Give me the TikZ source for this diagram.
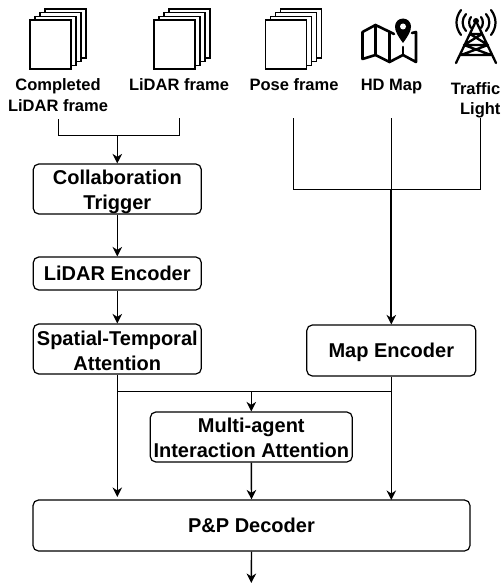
\documentclass[tikz,border=0pt]{standalone}
\usepackage{fontspec}
\setmainfont{Liberation Sans}
\usetikzlibrary{arrows.meta}
\newcommand{\liftto}[1]{\rule{0pt}{#1pt}}
\tikzset{
  x=1pt,y=-1pt,
  boxnode/.style={draw=black,line width=1.2pt,rounded corners=5.5pt,fill=white,align=center,inner sep=0pt,font=\fontsize{20}{25.3}\selectfont\bfseries,minimum height=#1},
  lab/.style={align=center,inner sep=0pt,font=\fontsize{16.5}{20.3}\selectfont\bfseries},
  wire/.style={draw=black,line width=1.4pt},
  arrowwire/.style={wire,-{Stealth[length=9.5pt,width=9.5pt,inset=3pt]}},
  sheet/.style={draw=black,line width=1.5pt,fill=white},
  icon/.style={draw=black,line width=2.6pt,line join=round,line cap=round}
}
\newcommand{\stackicon}[2]{%
  \foreach \k in {3,2,1,0}{
    \draw[sheet] (#1+5*\k,#2-3.7*\k) rectangle ++(41,49);
  }}
\begin{document}
\begin{tikzpicture}
\useasboundingbox (0,0) rectangle (501,586);
\stackicon{30}{20}
\stackicon{154}{20}
\stackicon{265.5}{20}
% map icon
\draw[icon] (394,34) -- (390,32) -- (375.5,25) -- (362.5,32) -- (362.5,59) -- (375.5,55) -- (389.5,62) -- (403,55) -- (416,62) -- (416,32) -- (412,33);
\draw[icon] (375.5,25) -- (375.5,55) (389.5,32) -- (389.5,62) (403,47) -- (403,55);
\fill[black] (403,43) .. controls (398,36) and (395,31.5) .. (395,26.5) arc (180:360:8) .. controls (411,31.5) and (408,36) .. (403,43) -- cycle;
\fill[white] (403,26.5) circle (3pt);
% tower
\fill[black] (476,21) circle (3pt);
\draw[icon,line width=2.3pt] (476,21) -- (456,63) (476,21) -- (496,63)
  (470,34) -- (482,34) (470,34) -- (488,45) (482,34) -- (464,45) (464,45) -- (488,45)
  (464,45) -- (491,55) (488,45) -- (461,55) (461,55) -- (491,55);
\draw[icon,line width=2.2pt] (471,28) .. controls (468.5,25) and (468.5,20) .. (471,17)
  (481,17) .. controls (483.5,20) and (483.5,25) .. (481,28)
  (466,31) .. controls (461.5,26) and (461.5,19) .. (466,14)
  (486,14) .. controls (490.5,19) and (490.5,26) .. (486,31)
  (461,35) .. controls (455,27) and (455,18) .. (461,10)
  (491,10) .. controls (497,18) and (497,27) .. (491,35);
% labels
\node[lab] (l1) at (58,95) {Completed\\LiDAR frame};
\node[lab] (l2) at (179,85) {LiDAR frame};
\node[lab] (l3) at (294,85) {Pose frame};
\node[lab] (l4) at (391.5,86.5) {HD Map};
\node[lab,align=right,anchor=east] (l5) at (500.6,100) {Traffic\\Light};
% boxes
\node[boxnode=50pt,minimum width=168pt] (trig) at (117.3,189) {\liftto{20.5}Collaboration\\Trigger};
\node[boxnode=33pt,minimum width=168pt] (lenc) at (117.3,273.5) {LiDAR Encoder};
\node[boxnode=50pt,minimum width=168pt] (spat) at (117.3,349) {\liftto{17.5}Spatial-Temporal\\Attention};
\node[boxnode=51pt,minimum width=169pt] (menc) at (391.3,350.5) {\liftto{17.5}Map Encoder};
\node[boxnode=50pt,minimum width=202pt] (multi) at (251.3,437) {\liftto{16.5}Multi-agent\\Interaction Attention};
\node[boxnode=51pt,minimum width=437pt] (dec) at (251.5,525.5) {P\&P Decoder};
% free ends
\coordinate (a1) at (58.4,119);
\coordinate (a2) at (179.4,118);
\coordinate (b1) at (293.4,118);
\coordinate (b2) at (391.3,118);
\coordinate (b3) at (480.4,118);
\coordinate (j1) at (117.3,135.4);
\coordinate (j2) at (391.3,189.4);
\coordinate (j3) at (117.3,391.4);
\coordinate (j4) at (391.3,391.4);
\coordinate (j5) at (251.3,391.4);
\coordinate (t3) at (117.3,497);
\coordinate (t4) at (391.3,500);
\coordinate (out) at (251.3,583);
% connectors
\draw[wire] (a1) |- (j1) -| (a2);
\draw[arrowwire] (j1) -- (trig.north);
\draw[arrowwire] (trig.south) -- (lenc.north);
\draw[arrowwire] (lenc.south) -- (spat.north);
\draw[wire] (b1) |- (j2) -| (b3);
\draw[wire] (b2) -- (j2);
\draw[arrowwire,line width=1.8pt] (j2) -- (menc.north);
\draw[wire] (spat.south) -- (j3) -- (j4) -- (menc.south);
\draw[arrowwire] (j5) -- (multi.north);
\draw[arrowwire] (j3) -- (t3);
\draw[arrowwire] (multi.south) -- (dec.north);
\draw[arrowwire] (j4) -- (t4);
\draw[arrowwire] (dec.south) -- (out);
\end{tikzpicture}
\end{document}
